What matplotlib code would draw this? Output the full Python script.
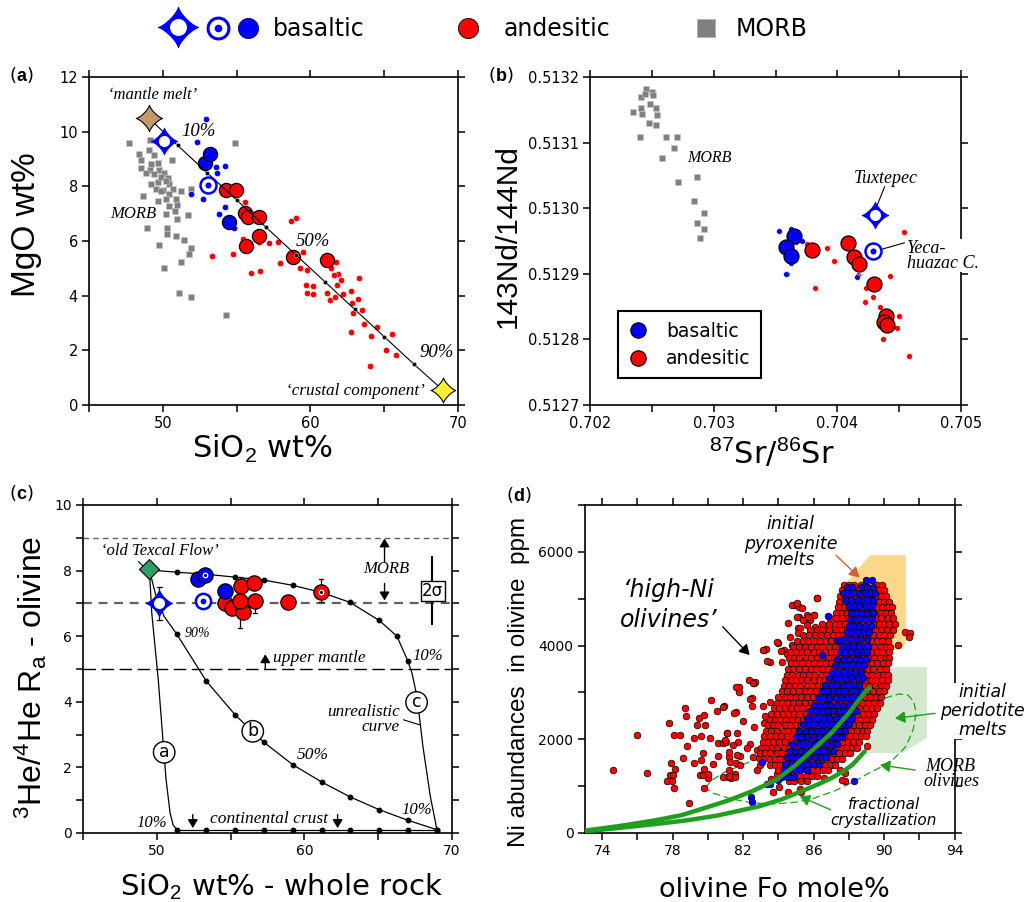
import numpy as np
import matplotlib.pyplot as plt
from matplotlib.lines import Line2D
from matplotlib.patches import Polygon

plt.rcParams['font.family'] = 'DejaVu Sans'
plt.rcParams['mathtext.fontset'] = 'custom'
plt.rcParams['mathtext.rm'] = 'Liberation Sans'
plt.rcParams['mathtext.it'] = 'Liberation Sans:italic'
plt.rcParams['mathtext.bf'] = 'Liberation Sans:bold'

BLUE = '#0000ff'
RED = '#ff0000'
GRAY = '#808080'
GREEN = '#1f9e1f'
SERIF = dict(family='Liberation Serif', style='italic')
OBL = dict(family='DejaVu Sans', style='oblique')

# ---------------- (a) MgO vs SiO2 ----------------
morb_a_si = [47.7, 54.9, 49.1, 48.4, 49.05, 49.4, 48.53, 49.2, 49.66, 48.5, 50.6, 49.1, 49.77, 50.1,
             48.83, 49.66, 49.2, 49.55, 50.0, 50.45, 50.34, 50.68, 50.45, 49.9, 51.24, 48.65, 49.66,
             50.2, 50.9, 50.97, 50.45, 50.86, 50.23, 50.97, 51.7, 51.9, 48.9, 50.3, 50.27, 50.9, 51.47,
             51.9, 49.73, 51.76, 51.24, 50.05, 51.13, 51.92, 54.3, 49.9, 50.2, 49.4]
morb_a_mg = [9.6, 9.6, 9.7, 9.17, 9.32, 9.14, 8.95, 8.83, 8.86, 8.67, 8.98, 8.59, 8.59, 8.49,
             8.49, 8.16, 8.1, 7.92, 7.88, 8.1, 8.31, 7.92, 7.71, 7.83, 7.83, 7.64, 7.46,
             7.55, 7.52, 7.31, 7.27, 7.1, 6.97, 6.79, 6.94, 7.92, 6.46, 6.46, 6.27, 6.19, 6.03,
             5.73, 5.85, 5.52, 5.24, 5.03, 4.11, 3.94, 3.29, 8.35, 8.2, 8.45]

mix_si = [49.05, 51, 53, 55, 57, 59, 61, 63, 65, 67, 68.96]
mix_mg = [10.5, 9.5, 8.5, 7.5, 6.5, 5.5, 4.5, 3.5, 2.5, 1.5, 0.55]

red_small_a_si = [53.34, 54.76, 55.98, 56.57, 55.4, 57.2, 57.8, 57.97, 59.28, 59.5, 59.8, 59.7, 60.2,
                  59.8, 60.2, 61.76, 61.4, 61.9, 61.6, 62.1, 61.8, 61.1, 61.3, 61.7, 62.2, 62.75,
                  63.3, 63.2, 62.9, 63.5, 63.6, 62.75, 64.1, 64.5, 65.5, 65.1, 65.8, 64.06, 62.8,
                  59.0, 58.7, 55.6, 56.5]
red_small_a_mg = [5.45, 5.51, 4.84, 4.91, 6.09, 5.91, 5.97, 5.18, 5.0, 5.58, 4.93, 4.39, 4.35,
                  4.08, 4.06, 5.24, 5.0, 4.79, 4.75, 4.59, 4.39, 4.1, 3.84, 3.96, 4.06, 4.17,
                  4.63, 3.87, 3.35, 3.47, 2.95, 2.68, 2.52, 2.84, 2.6, 2.03, 1.83, 1.44, 3.72,
                  6.85, 6.74, 7.43, 5.97]
blue_small_a_si = [52.9, 52.3, 53.6, 54.2, 53.7, 51.9, 52.7, 54.2, 53.8, 54.8]
blue_small_a_mg = [10.45, 9.62, 8.69, 8.74, 8.47, 7.71, 7.53, 7.25, 6.98, 6.46]
red_big_a_si = [54.3, 54.97, 55.6, 55.8, 56.55, 56.5, 55.64, 58.8, 61.1]
red_big_a_mg = [7.86, 7.88, 7.02, 6.86, 6.86, 6.18, 5.81, 5.4, 5.32]
blue_big_a_si = [52.85, 53.2, 54.5]
blue_big_a_mg = [8.85, 9.2, 6.68]

# ---------------- (b) Nd vs Sr ----------------
morb_b_sr = [0.702350, 0.702414, 0.702449, 0.702501, 0.702507, 0.702443, 0.702414, 0.702423, 0.702487,
             0.702531, 0.702545, 0.702478, 0.702536, 0.702408, 0.702612, 0.702706, 0.702682, 0.702583,
             0.702714, 0.702866, 0.702837, 0.702924, 0.702866, 0.702918, 0.702886]
morb_b_nd = [0.513146, 0.513169, 0.513182, 0.513177, 0.513172, 0.513174, 0.513152, 0.513143, 0.513159,
             0.513152, 0.513142, 0.513130, 0.513127, 0.513109, 0.513108, 0.513109, 0.513092, 0.513077,
             0.513040, 0.513047, 0.513011, 0.512992, 0.512978, 0.512969, 0.512955]
blue_small_b_sr = [0.703528, 0.703595, 0.703711, 0.703624, 0.703627, 0.704163, 0.703583]
blue_small_b_nd = [0.512966, 0.512900, 0.512950, 0.512968, 0.512916, 0.512895, 0.512900]
red_small_b_sr = [0.703662, 0.703755, 0.703915, 0.703974, 0.703822, 0.704542, 0.704169, 0.704230,
                  0.704289, 0.704222, 0.704426, 0.704347, 0.704499, 0.704484, 0.704367, 0.704580]
red_small_b_nd = [0.512949, 0.512945, 0.512940, 0.512920, 0.512879, 0.512964, 0.512898, 0.512878,
                  0.512864, 0.512857, 0.512897, 0.512850, 0.512836, 0.512817, 0.512800, 0.512774]
blue_big_b_sr = [0.703647, 0.703586, 0.703624]
blue_big_b_nd = [0.512957, 0.512941, 0.512927]
red_big_b_sr = [0.703799, 0.704090, 0.704134, 0.704172, 0.704295, 0.704397, 0.704376, 0.704405]
red_big_b_nd = [0.512936, 0.512947, 0.512925, 0.512915, 0.512884, 0.512835, 0.512827, 0.512822]

# ---------------- (c) He isotopes vs SiO2 ----------------
curve_a_si = [49.5, 49.66, 50.1, 50.45, 50.63, 50.9, 51.1, 51.36]
curve_a_ra = [8.02, 6.7, 4.67, 2.64, 1.62, 0.61, 0.25, 0.1]
bottom_si = [51.36, 53.34, 55.31, 57.27, 59.22, 61.19, 63.1, 65.07, 67.0, 68.98]
bottom_ra = [0.1, 0.1, 0.1, 0.1, 0.1, 0.1, 0.1, 0.1, 0.1, 0.1]
curve_b_si = [49.5, 49.9, 50.5, 51.36, 53.34, 55.31, 57.27, 59.22, 61.19, 63.1, 65.07, 67.0, 68.98]
curve_b_ra = [8.02, 7.3, 6.6, 6.06, 4.64, 3.6, 2.76, 2.08, 1.55, 1.1, 0.71, 0.39, 0.1]
curve_c_si = [49.5, 51.36, 53.34, 55.31, 57.27, 59.22, 61.19, 63.1, 65.07, 66.27, 67.0, 67.29, 67.63,
              68.03, 68.53, 68.98]
curve_c_ra = [8.02, 7.95, 7.89, 7.8, 7.71, 7.55, 7.33, 7.03, 6.48, 6.0, 5.25, 4.87, 4.16, 2.64, 1.12, 0.1]
blue_c_si = [52.82, 53.28, 54.59]
blue_c_ra = [7.74, 7.87, 7.39]
red_c_si = [55.72, 56.6, 54.63, 55.08, 55.83, 55.65, 56.67, 58.88, 61.12]
red_c_ra = [7.53, 7.61, 7.0, 6.85, 6.75, 7.06, 7.06, 7.03, 7.36]
err_c_si = [50.18, 55.65, 56.67, 61.12]
err_c_lo = [6.5, 6.24, 6.7, 7.03]
err_c_hi = [7.5, 7.8, 7.06, 7.74]

# ---------------- (d) Ni vs Fo ----------------
red_out = [(74.6, 1350), (76.0, 2095), (76.55, 1280), (77.8, 2345), (77.7, 1100), (77.85, 1230),
           (78.05, 960), (78.1, 2095), (78.4, 2095), (77.9, 1490), (78.15, 1370), (78.7, 2660),
           (78.75, 2490), (78.8, 1850), (78.6, 1600), (78.9, 640), (79.4, 2300), (79.5, 2450),
           (79.2, 2020), (79.6, 2060), (79.2, 1490), (79.6, 1560), (79.8, 2520), (79.85, 2300),
           (79.7, 1700), (79.8, 1365), (79.8, 960), (79.55, 1230), (80.2, 2840), (80.1, 2020),
           (80.0, 1170), (80.3, 1480), (80.5, 2610), (80.6, 1920), (80.6, 1650), (80.9, 2700),
           (80.85, 1920), (81.05, 1950), (81.1, 2130), (81.2, 1630), (81.2, 1350), (81.3, 1170),
           (81.55, 1250), (81.75, 3125), (81.75, 3000), (81.6, 2590), (81.65, 2130), (81.7, 1950),
           (81.8, 1650), (81.6, 1500), (82.5, 2880), (82.5, 2700), (82.6, 3195), (82.7, 3220),
           (82.6, 2270), (82.4, 1900), (82.8, 1780), (82.9, 1600), (83.2, 3905), (83.3, 3920),
           (83.5, 3660), (83.1, 2700), (83.25, 2500), (83.5, 2800), (84.0, 4060), (84.3, 3905),
           (84.5, 3820), (84.7, 3635), (84.9, 4865), (85.2, 4830), (85.35, 4800), (85.2, 4615),
           (85.1, 4365), (85.6, 4660), (85.8, 4545), (86.2, 5005), (86.0, 4650), (86.1, 4400),
           (86.9, 4400), (87.3, 4225), (87.8, 1280), (87.8, 1100), (89.05, 1850), (91.2, 4295),
           (91.45, 4260), (91.4, 4180), (90.8, 4010), (80.88, 2696), (81.48, 2568), (81.98, 2397),
           (82.4, 2853), (81.1, 2128), (80.97, 1985), (81.44, 1878), (81.22, 1735), (81.64, 1665),
           (81.83, 1451), (81.26, 1522), (81.16, 1201), (81.54, 1188), (82.2, 1807), (82.58, 1629),
           (82.77, 1344), (82.96, 1451), (83.72, 882), (84.06, 975), (84.57, 882), (85.23, 932),
           (85.7, 1216), (86.59, 1167), (87.6, 1131), (84.1, 1274), (87.5, 1344), (86.18, 1380),
           (84.76, 4866), (85.08, 4902), (86.18, 5008), (85.04, 4616), (84.57, 4474), (86.0, 4652),
           (85.42, 4545), (85.7, 4616), (85.23, 4368), (85.61, 4439), (83.15, 3905), (83.34, 3677),
           (83.91, 4083), (84.14, 3884), (84.19, 3656), (84.66, 4190), (85.14, 4262), (84.76, 4012),
           (85.8, 4262), (86.37, 4225), (86.84, 4439), (82.35, 3265), (82.58, 3194), (81.6, 3122),
           (77.95, 1100), (78.0, 1230), (79.7, 1240), (80.0, 1250), (80.85, 1200), (81.2, 1210),
           (83.6, 1150), (83.9, 1250), (85.3, 870), (83.4, 2000), (83.2, 2350)]

red_rows_ni = [5300, 5180, 5060, 4940, 4820, 4700, 4580, 4460, 4340, 4220, 4100, 3980, 3860, 3740,
               3620, 3500, 3380, 3260, 3140, 3020, 2900, 2780, 2660, 2540, 2420, 2300, 2180, 2060,
               1940, 1820, 1700, 1580, 1460, 1340, 1220, 1100]
red_rows_fo = [
    [87.7, 88.0, 88.3, 88.7, 89.0, 89.6, 89.9],
    [87.6, 87.9, 88.2, 88.6, 88.9, 89.3, 89.7, 90.0],
    [87.5, 87.8, 88.1, 88.4, 88.8, 89.1, 89.5, 89.8, 90.1],
    [87.45, 87.8, 88.1, 88.4, 88.7, 89.0, 89.35, 89.7, 90.0, 90.3],
    [87.4, 87.7, 88.0, 88.35, 88.7, 89.0, 89.3, 89.6, 89.9, 90.2, 90.45],
    [87.3, 87.6, 87.9, 88.2, 88.5, 88.8, 89.1, 89.45, 89.8, 90.1, 90.4],
    [86.95, 87.3, 87.6, 87.95, 88.3, 88.6, 88.9, 89.2, 89.5, 89.85, 90.2, 90.5],
    [86.5, 86.85, 87.2, 87.5, 87.8, 88.1, 88.45, 88.75, 89.1, 89.4, 89.7, 90.0, 90.3, 90.6],
    [85.8, 86.2, 86.5, 86.9, 87.25, 87.6, 87.9, 88.2, 88.55, 88.9, 89.2, 89.5, 89.8, 90.15, 90.5],
    [85.4, 85.75, 86.1, 86.4, 86.75, 87.1, 87.4, 87.75, 88.05, 88.4, 88.7, 89.0, 89.35, 89.7, 90.0,
     90.35],
    [85.05, 85.4, 85.7, 86.05, 86.35, 86.7, 87.0, 87.35, 87.65, 88.0, 88.3, 88.6, 88.95, 89.3, 89.6,
     89.9, 90.25],
    [84.85, 85.2, 85.5, 85.85, 86.2, 86.5, 86.85, 87.2, 87.5, 87.8, 88.15, 88.5, 88.8, 89.1, 89.45,
     89.8, 90.1, 90.35],
    [84.65, 85.0, 85.35, 85.65, 86.0, 86.3, 86.65, 87.0, 87.3, 87.65, 87.95, 88.3, 88.6, 88.95,
     89.25, 89.6, 89.9, 90.3],
    [84.6, 84.9, 85.2, 85.55, 85.85, 86.2, 86.5, 86.85, 87.15, 87.5, 87.8, 88.15, 88.45, 88.8, 89.1,
     89.45, 89.75, 90.1, 90.3],
    [84.7, 85.0, 85.35, 85.7, 86.0, 86.35, 86.7, 87.0, 87.3, 87.65, 88.0, 88.3, 88.65, 88.95, 89.3,
     89.6, 89.95, 90.25],
    [84.55, 84.85, 85.2, 85.5, 85.85, 86.15, 86.5, 86.8, 87.15, 87.45, 87.8, 88.1, 88.45, 88.75,
     89.1, 89.4, 89.75, 90.1],
    [84.5, 84.8, 85.1, 85.4, 85.75, 86.05, 86.4, 86.7, 87.05, 87.35, 87.7, 88.0, 88.35, 88.65, 89.0,
     89.3, 89.65, 89.95, 90.2],
    [84.4, 84.7, 85.0, 85.35, 85.65, 86.0, 86.3, 86.65, 86.95, 87.3, 87.6, 87.95, 88.25, 88.6, 88.9,
     89.25, 89.55, 89.9, 90.2],
    [84.3, 84.6, 84.95, 85.25, 85.6, 85.9, 86.25, 86.55, 86.9, 87.2, 87.55, 87.85, 88.2, 88.5,
     88.85, 89.15, 89.5, 89.8, 90.1],
    [84.2, 84.5, 84.85, 85.15, 85.5, 85.8, 86.15, 86.45, 86.8, 87.1, 87.45, 87.75, 88.1, 88.4,
     88.75, 89.05, 89.4, 89.7, 90.0],
    [84.0, 84.35, 84.65, 85.0, 85.3, 85.65, 85.95, 86.3, 86.6, 86.95, 87.25, 87.6, 87.9, 88.25,
     88.55, 88.9, 89.2, 89.55, 89.85],
    [83.9, 84.2, 84.55, 84.85, 85.2, 85.5, 85.85, 86.15, 86.5, 86.8, 87.15, 87.45, 87.8, 88.1,
     88.45, 88.75, 89.1, 89.45, 89.75],
    [83.75, 84.05, 84.4, 84.7, 85.05, 85.35, 85.7, 86.0, 86.35, 86.65, 87.0, 87.3, 87.65, 87.95,
     88.3, 88.6, 88.95, 89.3, 89.6],
    [83.6, 83.9, 84.25, 84.55, 84.9, 85.2, 85.55, 85.85, 86.2, 86.5, 86.85, 87.15, 87.5, 87.8,
     88.15, 88.45, 88.8, 89.1, 89.45],
    [83.5, 83.8, 84.1, 84.45, 84.75, 85.1, 85.4, 85.75, 86.05, 86.4, 86.7, 87.05, 87.35, 87.7, 88.0,
     88.35, 88.65, 89.0, 89.3],
    [83.4, 83.7, 84.0, 84.35, 84.65, 85.0, 85.3, 85.65, 85.95, 86.3, 86.6, 86.95, 87.25, 87.6, 87.9,
     88.25, 88.55, 88.9, 89.2],
    [83.3, 83.6, 83.9, 84.25, 84.55, 84.9, 85.2, 85.55, 85.85, 86.2, 86.5, 86.85, 87.15, 87.5, 87.8,
     88.15, 88.45, 88.8, 89.05],
    [83.2, 83.5, 83.85, 84.15, 84.5, 84.8, 85.15, 85.45, 85.8, 86.1, 86.45, 86.75, 87.1, 87.4,
     87.75, 88.05, 88.4, 88.7, 88.95],
    [83.1, 83.4, 83.7, 84.05, 84.35, 84.7, 85.0, 85.35, 85.65, 86.0, 86.3, 86.65, 86.95, 87.3, 87.6,
     87.95, 88.25, 88.6],
    [83.0, 83.3, 83.65, 83.95, 84.3, 84.6, 84.95, 85.25, 85.6, 85.9, 86.25, 86.55, 86.9, 87.2,
     87.55, 87.85, 88.2, 88.45],
    [82.95, 83.25, 83.55, 83.9, 84.2, 84.55, 84.85, 85.2, 85.5, 85.85, 86.15, 86.5, 86.8, 87.15,
     87.45, 87.8, 88.05],
    [83.2, 83.5, 83.8, 84.1, 84.45, 84.75, 85.1, 85.4, 85.75, 86.05, 86.4, 86.7, 87.05, 87.35, 87.6],
    [83.5, 83.8, 84.1, 84.4, 84.7, 85.05, 85.35, 85.7, 86.0, 86.35, 86.65, 87.0, 87.2],
    [84.0, 84.3, 84.6, 84.95, 85.25, 85.6, 85.9, 86.25, 86.55, 86.8],
    [84.3, 84.6, 84.9, 85.25, 85.55, 85.9, 86.2],
    [84.6, 84.9, 85.3, 85.6],
]

blue_out = [(82.45, 760), (82.5, 670), (83.34, 1046), (84.0, 1136), (83.5, 1050), (83.06, 1522),
            (86.84, 4631), (86.5, 3800), (88.3, 1100), (87.37, 4118)]
blue_rows_ni = [5400, 5260, 5120, 4980, 4840, 4700, 4560, 4420, 4280, 4140, 4000, 3860, 3720, 3580,
                3440, 3300, 3160, 3020, 2880, 2740, 2600, 2460, 2320, 2180, 2040, 1900, 1760, 1620,
                1480, 1340, 1200]
blue_rows_fo = [
    [89.0, 89.3],
    [87.9, 88.2, 88.75, 89.05, 89.4],
    [87.65, 87.95, 88.3, 88.6, 88.9, 89.2, 89.5],
    [87.85, 88.15, 88.5, 88.8, 89.1, 89.4],
    [88.0, 88.3, 88.6, 88.95, 89.3],
    [88.1, 88.4, 88.75, 89.05, 89.35],
    [88.05, 88.35, 88.65, 89.0, 89.3],
    [88.0, 88.3, 88.6, 88.9, 89.25],
    [87.9, 88.2, 88.5, 88.85, 89.15],
    [87.75, 88.05, 88.4, 88.7, 89.05],
    [87.6, 87.95, 88.25, 88.6, 88.9, 89.1],
    [87.5, 87.8, 88.15, 88.45, 88.8, 89.05],
    [87.35, 87.7, 88.0, 88.35, 88.65, 89.0],
    [87.2, 87.55, 87.85, 88.2, 88.5, 88.85],
    [87.05, 87.4, 87.7, 88.05, 88.35, 88.7],
    [86.85, 87.2, 87.5, 87.85, 88.15, 88.5, 88.8],
    [86.65, 87.0, 87.3, 87.65, 87.95, 88.3, 88.6],
    [86.45, 86.8, 87.1, 87.45, 87.75, 88.1, 88.4, 88.7],
    [86.25, 86.6, 86.9, 87.25, 87.55, 87.9, 88.2, 88.5],
    [86.0, 86.35, 86.7, 87.0, 87.35, 87.65, 88.0, 88.3],
    [85.8, 86.15, 86.45, 86.8, 87.1, 87.45, 87.75, 88.1, 88.4],
    [85.6, 85.95, 86.25, 86.6, 86.9, 87.25, 87.55, 87.9, 88.2],
    [85.4, 85.75, 86.05, 86.4, 86.7, 87.05, 87.35, 87.7, 88.0],
    [85.2, 85.55, 85.85, 86.2, 86.5, 86.85, 87.15, 87.5, 87.8],
    [85.0, 85.35, 85.65, 86.0, 86.3, 86.65, 86.95, 87.3, 87.6],
    [84.8, 85.15, 85.45, 85.8, 86.1, 86.45, 86.75, 87.1, 87.35],
    [84.65, 84.95, 85.3, 85.6, 85.95, 86.25, 86.6, 86.9, 87.1],
    [84.5, 84.8, 85.1, 85.45, 85.75, 86.1, 86.4, 86.7],
    [84.4, 84.7, 85.0, 85.3, 85.65, 85.95, 86.3],
    [84.3, 84.6, 84.95, 85.25, 85.6],
    [84.2, 84.55, 84.9],
]

fc_upper_fo = [73.0, 75.0, 77.0, 78.5, 79.8, 81.2, 82.5, 83.9, 85.0, 86.0, 87.0, 88.0, 89.0, 89.2]
fc_upper_ni = [50, 150, 270, 380, 532, 700, 890, 1136, 1455, 1789, 2130, 2556, 3053, 3090]
fc_lower_fo = [73.0, 75.0, 77.0, 78.8, 80.5, 82.9, 84.2, 85.3, 86.2, 87.0, 87.7, 88.2, 88.9]
fc_lower_ni = [35, 110, 190, 270, 370, 568, 720, 890, 1030, 1170, 1320, 1455, 1740]
morb_ell_fo = [79.82, 80.27, 80.84, 81.65, 82.88, 84.5, 86.14, 87.78, 89.0, 90.02, 90.84, 91.35, 91.69,
               91.82, 91.65, 91.24, 90.6, 89.9, 89.2, 88.3, 87.2, 86.0, 85.0, 83.8, 82.6, 81.3, 80.3,
               79.82]
morb_ell_ni = [958, 1136, 1278, 1406, 1598, 1846, 2130, 2450, 2698, 2876, 2968, 2947, 2805,
               2556, 2201, 1846, 1600, 1420, 1290, 1100, 900, 740, 660, 620, 640, 730, 850, 958]
pyrox_fo = [87.57, 89.2, 91.24, 91.24, 90.84, 87.57]
pyrox_ni = [5219, 5929, 5929, 4047, 3905, 3976]
perid_fo = [89.0, 89.0, 92.43, 92.43, 91.04]
perid_ni = [1704, 3540, 3540, 2027, 1707]

# ---------------- figure ----------------
W, H = 1032.0, 902.0
fig = plt.figure(figsize=(W / 100, H / 100), dpi=100)

t = np.linspace(0, 2 * np.pi, 161)
STAR = np.column_stack([np.sign(np.cos(t)) * np.abs(np.cos(t)) ** 2.6,
                        np.sign(np.sin(t)) * np.abs(np.sin(t)) ** 2.6])


def px_axes(x0, y0, x1, y1):
    return fig.add_axes([x0 / W, (H - y1) / H, (x1 - x0) / W, (y1 - y0) / H])


def style(ax, size):
    for s in ax.spines.values():
        s.set_linewidth(1.2)
    ax.tick_params(which='both', direction='out', top=True, right=True, labeltop=False,
                   labelright=False, length=5, width=1.1, labelsize=size, pad=3)


def star(ax, x, y, ms, fc, ec, hole=False, z=7):
    ax.plot(x, y, marker=STAR, ms=ms, mfc=fc, mec=ec, mew=0.8, ls='none', zorder=z, clip_on=False)
    if hole:
        ax.plot(x, y, 'o', ms=ms * 0.42, mfc='white', mec='none', zorder=z, clip_on=False)


def target(ax, x, y, ms, z=7):
    ax.plot(x, y, 'o', ms=ms, mfc='white', mec=BLUE, mew=1.8, zorder=z)
    ax.plot(x, y, 'o', ms=ms * 0.38, mfc=BLUE, mec='none', zorder=z)


def arrow(ax, x0, y0, x1, y1, color='black', lw=1.0, hw=4, hl=6):
    ax.annotate('', xy=(x1, y1), xytext=(x0, y0),
                arrowprops=dict(arrowstyle='-|>,head_width=%.2f,head_length=%.2f' % (hw / 10, hl / 10),
                                color=color, lw=lw, shrinkA=0, shrinkB=0), zorder=8)


# ---- (a) ----
ax = px_axes(89, 77, 458, 405)
ax.set_xlim(45, 70)
ax.set_ylim(0, 12)
ax.set_xticks([45, 50, 55, 60, 65, 70])
ax.set_xticklabels(['', '50', '', '60', '', '70'])
ax.set_yticks([0, 2, 4, 6, 8, 10, 12])
style(ax, 10.5)
ax.plot(morb_a_si, morb_a_mg, 's', ms=3.8, mfc=GRAY, mec='#c8c8c8', mew=0.4, zorder=2)
ax.plot(red_small_a_si, red_small_a_mg, 'o', ms=4.6, mfc=RED, mec='white', mew=0.4, zorder=3)
ax.plot(blue_small_a_si, blue_small_a_mg, 'o', ms=4.6, mfc=BLUE, mec='white', mew=0.4, zorder=3)
ax.plot(red_big_a_si, red_big_a_mg, 'o', ms=10.2, mfc=RED, mec='black', mew=0.9, zorder=4)
ax.plot(blue_big_a_si, blue_big_a_mg, 'o', ms=10.2, mfc=BLUE, mec='black', mew=0.9, zorder=4)
ax.plot(mix_si, mix_mg, '-', color='black', lw=0.8, zorder=5)
ax.plot(mix_si[1:-1], mix_mg[1:-1], 'o', ms=3.2, mfc='black', mec='white', mew=0.3, zorder=5)
target(ax, 53.07, 8.04, 11.5)
star(ax, 50.05, 9.65, 19, BLUE, BLUE, hole=True)
star(ax, 49.05, 10.51, 19, '#c49a6c', 'black')
star(ax, 68.96, 0.55, 18, '#ffee33', 'black')
ax.text(49.3, 11.35, '\u2018mantle melt\u2019', ha='center', va='center', fontsize=12, **SERIF)
ax.text(52.4, 10.0, '10%', ha='center', va='center', fontsize=13.5, **SERIF)
ax.text(60.2, 6.0, '50%', ha='center', va='center', fontsize=13.5, **SERIF)
ax.text(68.58, 1.91, '90%', ha='center', va='center', fontsize=13.5, **SERIF)
ax.text(48.0, 7.0, 'MORB', ha='center', va='center', fontsize=12, **SERIF)
ax.text(63.05, 0.51, '\u2018crustal component\u2019', ha='center', va='center', fontsize=12.3, **SERIF)

# ---- (b) ----
ax = px_axes(590, 77, 961, 405)
ax.set_xlim(0.702, 0.705)
ax.set_ylim(0.5127, 0.5132)
ax.set_xticks([0.702, 0.7025, 0.703, 0.7035, 0.704, 0.7045, 0.705])
ax.set_xticklabels(['0.702', '', '0.703', '', '0.704', '', '0.705'])
ax.set_yticks([0.5127, 0.5128, 0.5129, 0.513, 0.5131, 0.5132])
ax.set_yticklabels(['0.5127', '0.5128', '0.5129', '0.5130', '0.5131', '0.5132'])
style(ax, 10.5)
ax.plot(morb_b_sr, morb_b_nd, 's', ms=3.8, mfc=GRAY, mec='#c8c8c8', mew=0.4, zorder=2)
ax.plot(red_small_b_sr, red_small_b_nd, 'o', ms=4.2, mfc=RED, mec='white', mew=0.4, zorder=3)
ax.plot(blue_small_b_sr, blue_small_b_nd, 'o', ms=4.2, mfc=BLUE, mec='white', mew=0.4, zorder=3)
ax.plot(red_big_b_sr, red_big_b_nd, 'o', ms=10.8, mfc=RED, mec='black', mew=0.9, zorder=4)
ax.plot(blue_big_b_sr, blue_big_b_nd, 'o', ms=10.8, mfc=BLUE, mec='black', mew=0.9, zorder=4)
target(ax, 0.704286, 0.512935, 11.5)
star(ax, 0.704303, 0.512990, 19, BLUE, BLUE, hole=True)
ax.text(0.702968, 0.5130772, 'MORB', ha='center', va='center', fontsize=11.5, **SERIF)
ax.text(0.704391, 0.5130452, 'Tuxtepec', ha='center', va='center', fontsize=13, **SERIF)
ax.plot([0.704382, 0.704318], [0.5130325, 0.5130025], color='black', lw=0.8)
ax.plot([0.704353, 0.704542], [0.5129371, 0.5129472], color='black', lw=0.8)
ax.text(0.704565, 0.5129277, 'Yeca-\nhuazac C.', ha='left', va='center', fontsize=13, clip_on=False,
        linespacing=0.85, bbox=dict(fc='white', ec='none', pad=0.5), zorder=9, **SERIF)
handles = [Line2D([], [], marker='o', ls='none', ms=11, mfc=BLUE, mec='black', mew=0.9, label='basaltic'),
           Line2D([], [], marker='o', ls='none', ms=11, mfc=RED, mec='black', mew=0.9, label='andesitic')]
leg = ax.legend(handles=handles, loc='lower left', bbox_to_anchor=(0.0766, 0.081), borderaxespad=0,
                fancybox=False, edgecolor='black', fontsize=13.5, handlelength=1.0, handletextpad=1.0,
                borderpad=0.55, labelspacing=0.45, framealpha=1)
leg.get_frame().set_linewidth(1.5)

# ---- (c) ----
ax = px_axes(83, 505, 452, 833)
ax.set_xlim(45, 70)
ax.set_ylim(0, 10)
ax.set_xticks([45, 50, 55, 60, 65, 70])
ax.set_xticklabels(['', '50', '', '60', '', '70'])
ax.set_yticks(range(11))
ax.set_yticklabels(['0', '', '2', '', '4', '', '6', '', '8', '', '10'])
style(ax, 10)
ax.axhline(9, color='#606060', lw=1.0, dashes=(4, 3), zorder=1)
ax.axhline(7, color='#606060', lw=1.6, dashes=(4, 3), zorder=1)
ax.axhline(5, color='black', lw=1.0, dashes=(9, 4), zorder=1)
ax.plot(curve_a_si, curve_a_ra, color='black', lw=0.9, zorder=2)
ax.plot(curve_b_si, curve_b_ra, color='black', lw=0.9, zorder=2)
ax.plot(curve_c_si, curve_c_ra, color='black', lw=0.9, zorder=2)
ax.plot(bottom_si, bottom_ra, color='black', lw=0.9, zorder=2)
ax.plot(bottom_si, bottom_ra, 'o', ms=3.2, color='black', zorder=3)
ax.plot(curve_b_si[3:], curve_b_ra[3:], 'o', ms=3.2, color='black', zorder=3)
ax.plot(curve_c_si[1:11], curve_c_ra[1:11], 'o', ms=3.2, color='black', zorder=3)
for xs, lo, hi in zip(err_c_si, err_c_lo, err_c_hi):
    ax.plot([xs, xs], [lo, hi], color='black', lw=0.9, zorder=3)
    ax.plot([xs - 0.15, xs + 0.15], [lo, lo], color='black', lw=0.9, zorder=3)
    ax.plot([xs - 0.15, xs + 0.15], [hi, hi], color='black', lw=0.9, zorder=3)
ax.plot(red_c_si, red_c_ra, 'o', ms=11, mfc=RED, mec='black', mew=0.9, zorder=4)
ax.plot(blue_c_si, blue_c_ra, 'o', ms=11, mfc=BLUE, mec='black', mew=0.9, zorder=4)
ax.plot([53.28, 61.12], [7.87, 7.36], 'o', ms=4.2, mfc='white', mec='none', zorder=5)
ax.plot([53.28, 61.12], [7.87, 7.36], 'o', ms=2.2, mfc='black', mec='none', zorder=5)
target(ax, 53.12, 7.08, 11)
star(ax, 50.18, 7.0, 19, BLUE, BLUE, hole=True)
ax.plot([48.76, 49.32], [8.27, 8.03], color='black', lw=0.8, zorder=5)
ax.plot(49.5, 8.04, 'D', ms=10.5, mfc='#2ea065', mec='black', mew=0.8, zorder=7)
ax.text(50.2, 8.6, '\u2018old Texcal Flow\u2019', ha='center', va='center', fontsize=12, **SERIF)
ax.text(52.76, 6.07, '90%', ha='center', va='center', fontsize=10, **SERIF)
ax.text(61.03, 5.33, 'upper mantle', ha='center', va='center', fontsize=12.5, **SERIF)
arrow(ax, 57.35, 5.0, 57.35, 5.45, hw=3, hl=5)
ax.text(65.55, 8.04, 'MORB', ha='center', va='center', fontsize=12, **SERIF)
arrow(ax, 65.43, 8.27, 65.43, 8.98, hw=3, hl=5)
arrow(ax, 65.43, 7.61, 65.43, 7.09, hw=3, hl=5)
ax.plot([68.64, 68.64], [6.38, 8.41], color='black', lw=1.5, zorder=5)
ax.text(68.69, 7.38, '2\u03c3', ha='center', va='center', fontsize=12, zorder=6,
        bbox=dict(boxstyle='square,pad=0.08', fc='white', ec='black', lw=1.0))
ax.text(68.37, 5.41, '10%', ha='center', va='center', fontsize=12, **SERIF)
ax.text(67.63, 0.71, '10%', ha='center', va='center', fontsize=12, **SERIF)
ax.text(49.66, 0.3, '10%', ha='center', va='center', fontsize=12, **SERIF)
ax.text(60.58, 2.38, '50%', ha='center', va='center', fontsize=12.5, **SERIF)
ax.text(66.45, 3.7, 'unrealistic', ha='right', va='center', fontsize=12.3, **SERIF)
ax.text(66.45, 3.22, 'curve', ha='right', va='center', fontsize=12.3, **SERIF)
ax.plot([66.72, 67.8], [3.45, 3.3], color='black', lw=0.8, zorder=5)
ax.text(57.57, 0.43, 'continental crust', ha='center', va='center', fontsize=12.5, **SERIF)
arrow(ax, 52.44, 0.56, 52.44, 0.15, hw=3, hl=5)
arrow(ax, 62.25, 0.56, 62.25, 0.15, hw=3, hl=5)
for lab, xs, ys in [('a', 50.5, 2.46), ('b', 56.5, 3.1), ('c', 67.6, 3.98)]:
    ax.text(xs, ys, lab, ha='center', va='center', fontsize=12.5, zorder=6,
            bbox=dict(boxstyle='circle,pad=0.1', fc='white', ec='black', lw=1.0))

# ---- (d) ----
ax = px_axes(584.6, 505, 954.5, 833)
ax.set_xlim(73, 94)
ax.set_ylim(0, 7000)
ax.set_xticks(range(74, 95, 2))
ax.set_xticklabels(['74', '', '78', '', '82', '', '86', '', '90', '', '94'])
ax.set_yticks(range(0, 7001, 1000))
ax.set_yticklabels(['0', '', '2000', '', '4000', '', '6000', ''])
style(ax, 10)
ax.add_patch(Polygon(list(zip(pyrox_fo, pyrox_ni)), closed=True, fc='#fcd98a', ec='none', zorder=1))
ax.add_patch(Polygon(list(zip(perid_fo, perid_ni)), closed=True, fc='#d3e8cf', ec='none', zorder=1))
ax.plot(morb_ell_fo, morb_ell_ni, color=GREEN, lw=0.9, dashes=(6, 3), zorder=1.5)
red_fo = [p[0] for p in red_out] + [f for row in red_rows_fo for f in row]
red_ni = [p[1] for p in red_out] + [n for n, row in zip(red_rows_ni, red_rows_fo) for f in row]
blue_fo = [f for row in blue_rows_fo for f in row] + [p[0] for p in blue_out]
blue_ni = [n for n, row in zip(blue_rows_ni, blue_rows_fo) for f in row] + [p[1] for p in blue_out]
ax.plot(red_fo, red_ni, 'o', ms=4.8, mfc=RED, mec='black', mew=0.5, zorder=2)
ax.plot(blue_fo, blue_ni, 'o', ms=4.8, mfc=BLUE, mec='black', mew=0.5, zorder=3)
ax.plot(fc_upper_fo, fc_upper_ni, color=GREEN, lw=3.2, solid_capstyle='round', zorder=4)
ax.plot(fc_lower_fo, fc_lower_ni, color=GREEN, lw=3.2, solid_capstyle='round', zorder=4)
for k, txt in enumerate(['initial', 'pyroxenite', 'melts']):
    ax.text(84.7, [6600, 6177, 5822][k], txt, ha='center', va='center', fontsize=12.5, **OBL)
arrow(ax, 87.27, 5929, 88.6, 5453, color='#d0603a', hw=3.5, hl=6)
ax.text(77.8, 5183, '\u2018high-Ni', ha='center', va='center', fontsize=17, **OBL)
ax.text(77.8, 4544, 'olivines\u2019', ha='center', va='center', fontsize=17, **OBL)
arrow(ax, 80.84, 4402, 82.37, 3798, hw=3.5, hl=6)
ax.text(95.6, 2600, 'initial\nperidotite\nmelts', ha='center', va='center', fontsize=12.5, zorder=9,
        linespacing=1.05, bbox=dict(fc='white', ec='none', pad=0.3), **OBL)
arrow(ax, 92.9, 2554, 90.62, 2447, color=GREEN, hw=3.5, hl=6)
ax.text(93.75, 1415, 'MORB', ha='center', va='center', fontsize=13, **SERIF)
ax.text(93.85, 1095, 'olivines', ha='center', va='center', fontsize=13, **SERIF)
arrow(ax, 91.76, 1344, 89.77, 1451, color=GREEN, hw=3.5, hl=6)
ax.text(90.02, 604, 'fractional', ha='center', va='center', fontsize=11, **OBL)
ax.text(89.98, 270, 'crystallization', ha='center', va='center', fontsize=11, **OBL)
arrow(ax, 86.96, 497, 85.22, 781, color=GREEN, hw=3.5, hl=6)

# ---- overlay: legend, axis labels, panel letters ----
ov = fig.add_axes([0, 0, 1, 1])
ov.set_xlim(0, W)
ov.set_ylim(H, 0)
ov.axis('off')
star(ov, 178, 27, 29, BLUE, BLUE, hole=True)
ov.plot(218, 28, 'o', ms=15, mfc='white', mec=BLUE, mew=2.2)
ov.plot(218, 28, 'o', ms=5.5, mfc=BLUE, mec='none')
ov.plot(248, 28, 'o', ms=14.5, mfc=BLUE, mec='#000060', mew=0.6)
ov.text(273, 36, 'basaltic', fontsize=17, ha='left', va='baseline')
ov.plot(468, 28, 'o', ms=14.5, mfc=RED, mec='black', mew=0.6)
ov.text(504, 36, 'andesitic', fontsize=17, ha='left', va='baseline')
ov.plot(706, 28, 's', ms=13, mfc=GRAY, mec='#b0b0b0', mew=0.6)
ov.text(736, 36, 'MORB', fontsize=17, ha='left', va='baseline')

ov.text(26, 225, 'MgO wt%', rotation=90, ha='center', va='center', fontsize=24, family='Liberation Sans')
ov.text(508, 236, '143Nd/144Nd', rotation=90, ha='center', va='center', fontsize=21.5,
        family='Liberation Sans')
ov.text(31, 677, r'$^3$He/$^4$He R$_\mathrm{a}$ - olivine', rotation=90, ha='center', va='center',
        fontsize=23, family='Liberation Sans')
ov.text(519, 682, 'Ni abundances  in olivine  ppm', rotation=90, ha='center', va='center', fontsize=17.5,
        family='Liberation Sans')
ov.text(262, 458, r'SiO$_2$ wt%', ha='center', va='baseline', fontsize=22)
ov.text(772, 464, r'$^{87}$Sr/$^{86}$Sr', ha='center', va='baseline', fontsize=22)
ov.text(282, 895, r'SiO$_2$ wt% - whole rock', ha='center', va='baseline', fontsize=21)
ov.text(774, 897, 'olivine Fo mole%', ha='center', va='baseline', fontsize=19.5)
for lab, xs, ys in [('a', 21, 75), ('b', 501, 75), ('c', 21, 493), ('d', 519, 495)]:
    ov.text(xs, ys, r'($\mathbf{%s}$)' % lab, ha='center', va='center', fontsize=13)

fig.savefig('out.png', dpi=100)
